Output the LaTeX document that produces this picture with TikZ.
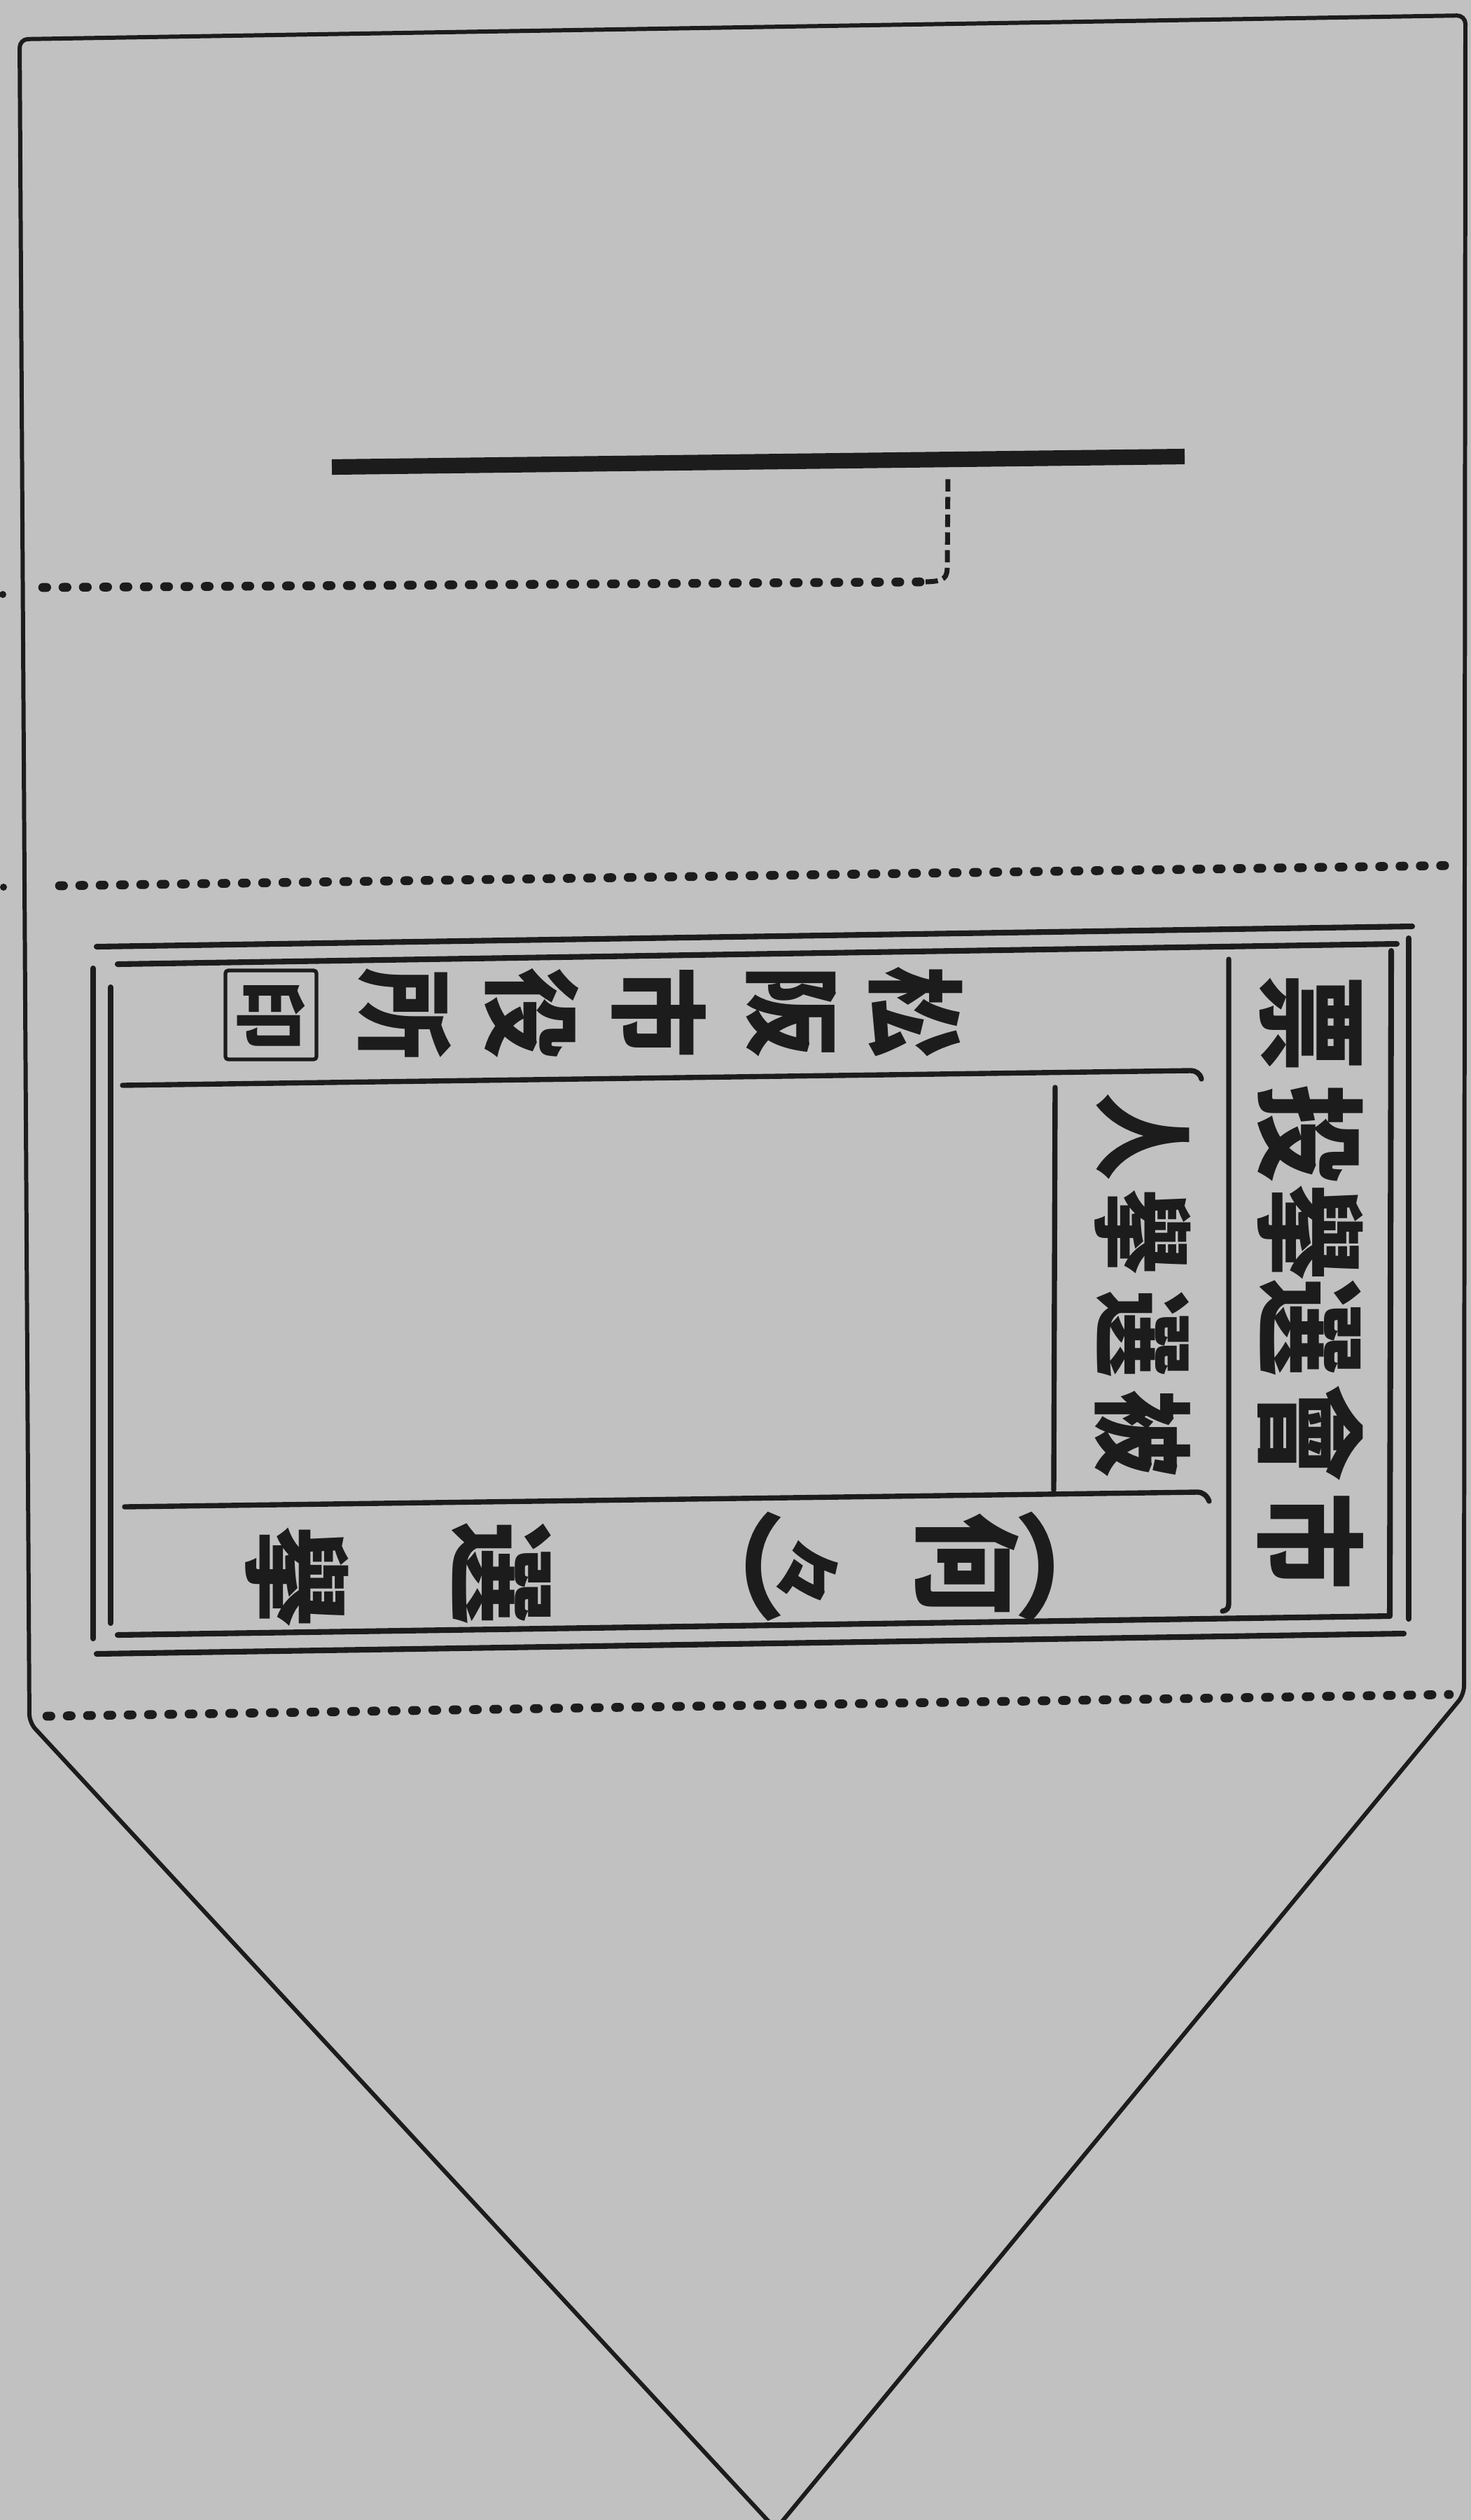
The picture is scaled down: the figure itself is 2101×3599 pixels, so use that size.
\documentclass[tikz,border=0pt]{standalone}
\usepackage{fontspec}
\newfontfamily\cjkfont{Noto Sans CJK JP}[BoldFont={Noto Sans CJK JP Black}]
\definecolor{paper}{RGB}{193,193,193}
\definecolor{ink}{RGB}{28,28,28}
\begin{document}
\begin{tikzpicture}[x=0.01cm,y=-0.01cm,
  env/.style={draw=ink,line width=1.7pt,line join=round,rounded corners=0.12cm},
  frm/.style={draw=ink,line width=2.3pt,line cap=round},
  sepline/.style={draw=ink,line width=2.1pt,line cap=round},
  dotline/.style={draw=ink,line width=3.6pt,line cap=round,dash pattern=on 1.6pt off 6.65pt},
  fold/.style={draw=ink,line width=2pt,dash pattern=on 5pt off 2.2pt},
  ch/.style={inner sep=0pt,outer sep=0pt,text=ink,rotate=-90},
  tA/.style={ch,font=\cjkfont\bfseries\fontsize{45pt}{45pt}\selectfont,xscale=0.88},
  tB/.style={ch,font=\cjkfont\bfseries\fontsize{41pt}{41pt}\selectfont,xscale=0.86},
  tC/.style={ch,font=\cjkfont\bfseries\fontsize{44pt}{44pt}\selectfont,xscale=0.95},
  tD/.style={ch,font=\cjkfont\bfseries\fontsize{40pt}{40pt}\selectfont,xscale=0.93},
  tSmall/.style={ch,font=\cjkfont\bfseries\fontsize{30pt}{30pt}\selectfont},
  tParen/.style={ch,font=\cjkfont\bfseries\fontsize{46pt}{46pt}\selectfont},
  tStamp/.style={ch,font=\cjkfont\bfseries\fontsize{29pt}{29pt}\selectfont}]
\fill[paper] (0,0) rectangle (2101,3599);
\useasboundingbox (0,0) rectangle (2101,3599);
\clip (0,0) rectangle (2101,3599);

% envelope outline
\draw[env] (1108,3612) -- (2091,2420) -- (2093,22) -- (28,56) -- (42,2460) -- cycle;

% little marks outside the left edge
\fill[ink] (4,849) circle (0.05cm);
\fill[ink] (5,1267) circle (0.05cm);

% top slot bar and fold
\draw[ink,line width=6.3pt] (474,667) -- (1692,652);
\draw[dotline] (61,839) -- (1322,831);
\draw[fold] (1322,831) .. controls (1350,830) and (1353,826) .. (1353,806) -- (1354,680);

% dotted fold lines
\draw[dotline] (85,1265) -- (2075,1236);
\draw[dotline] (67,2451) -- (2070,2420);

% double frame
\draw[frm] (138,1352) -- (2017,1323);
\draw[frm] (138,2362) -- (2005,2333);
\draw[frm] (133,1383) -- (133,2340);
\draw[frm] (2012,1340) -- (2012,2312);
\draw[frm] (168,1377) -- (1995,1348);
\draw[frm] (158,1410) -- (158,2318);
\draw[frm,line join=round] (1987,1358) -- (1985,2308) -- (168,2335);

% inner separators
\draw[sepline] (1755,1370) -- (1755,2290) .. controls (1755,2297) and (1752,2300) .. (1746,2301);
\draw[sepline] (175,1550) -- (1700,1529) .. controls (1708,1529) and (1714,1533) .. (1716,1541);
\draw[sepline] (178,2152) -- (1710,2131) .. controls (1718,2131) and (1724,2136) .. (1727,2144);
\draw[sepline] (1507,1553) -- (1505,2128);

% title column
\node[tA] (a1) at (1872,2201) {市};
\node[tA] (a2) at (1872,2047) {會};
\node[tA] (a3) at (1872,1896) {選};
\node[tA] (a4) at (1872,1760) {擧};
\node[tA] (a5) at (1872,1619) {投};
\node[tA] (a6) at (1872,1461) {票};

% candidate column
\node[tB] (b1) at (1632,2047) {被};
\node[tB] (b2) at (1632,1905) {選};
\node[tB] (b3) at (1632,1759) {擧};
\node[tB] (b4) at (1632,1623) {人};

% election name row
\node[tParen] (c0) at (1480,2237) {︵};
\node[tC] (c1) at (1381,2233) {何};
\node[tSmall] (c2) at (1153,2245) {々};
\node[tParen] (c3) at (1048,2237) {︶};
\node[tC] (c4) at (716,2247) {選};
\node[tC] (c5) at (424,2252) {擧};

% issuer row
\node[tD] (d1) at (1308,1445) {松};
\node[tD] (d2) at (1130,1445) {阪};
\node[tD] (d3) at (941,1446) {市};
\node[tD] (d4) at (760,1447) {役};
\node[tD] (d5) at (578,1448) {所};
\node[tStamp] (d6) at (387,1449) {印};
\draw[ink,line width=1.5pt,rounded corners=0.04cm] (322,1386) rectangle (452,1513);
\end{tikzpicture}
\end{document}
